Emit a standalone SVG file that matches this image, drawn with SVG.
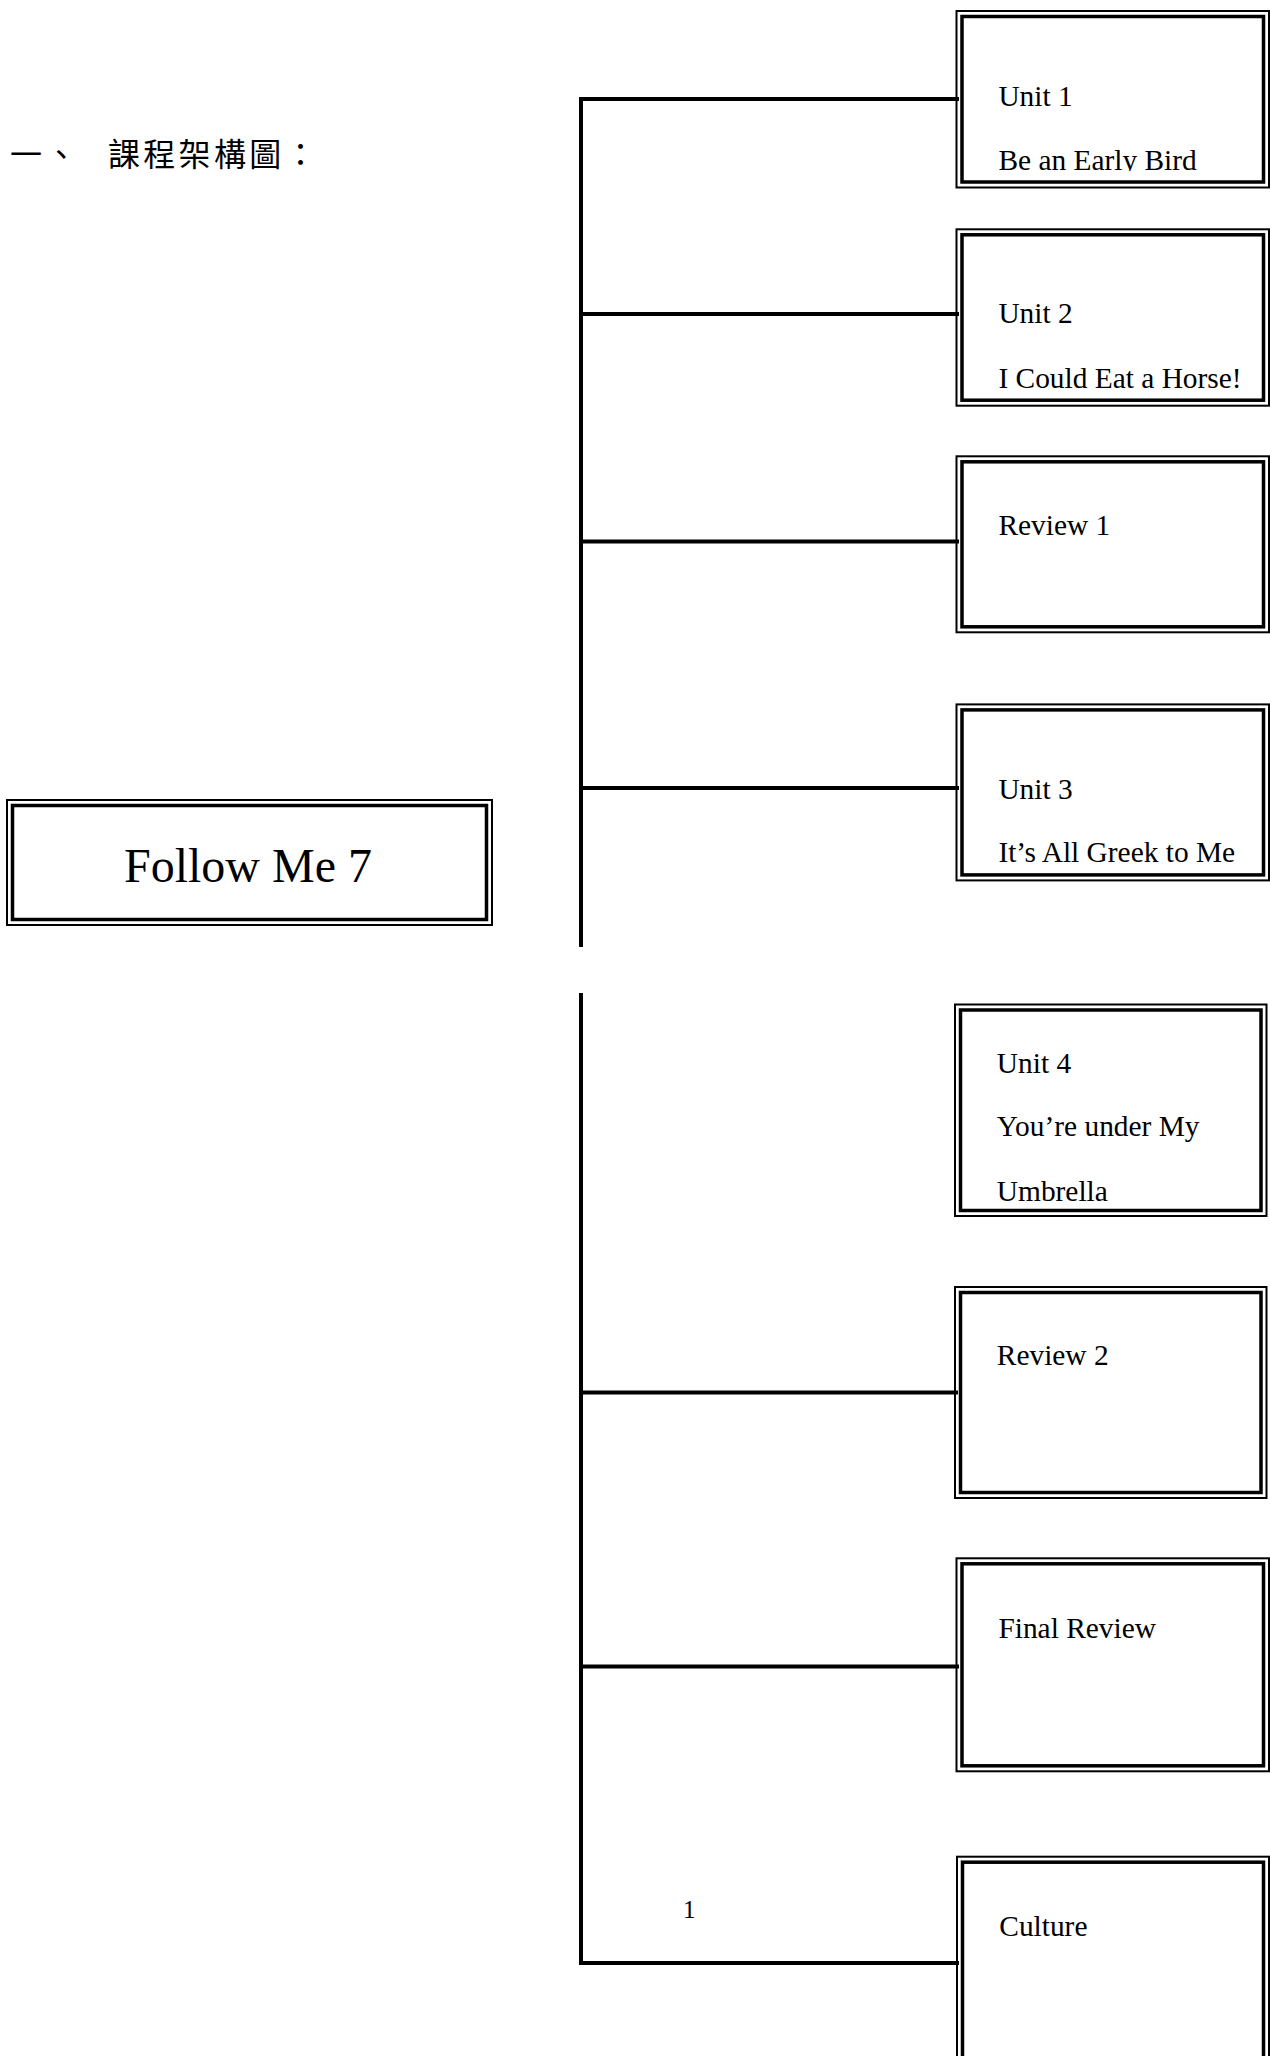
<svg xmlns="http://www.w3.org/2000/svg" width="1270" height="2056" viewBox="0 0 1270 2056">
<style>
.o{fill:none;stroke:#000;stroke-width:2}
.i{fill:none;stroke:#000;stroke-width:3.5}
.t{font-family:"Liberation Serif","Times New Roman",serif;font-size:29.4px;fill:#000}
.c{fill:none;stroke:#000;stroke-width:4;stroke-linecap:square}
</style>
<defs>
<clipPath id="clip1"><rect x="960" y="16" width="300" height="155"/></clipPath>
</defs>
<rect width="1270" height="2056" fill="#fff"/>

<g id="title">
<text x="10" y="166" font-family="'Noto Sans CJK TC','Noto Sans CJK SC',sans-serif" font-size="32" fill="#000" letter-spacing="3.3">一、<tspan x="108">課程架構圖：</tspan></text>
</g>

<g id="connectors">
<line class="c" x1="581" y1="99" x2="581" y2="945"/>
<line class="c" x1="581" y1="995" x2="581" y2="1963"/>
<line class="c" x1="581" y1="99" x2="957" y2="99"/>
<line class="c" x1="581" y1="314" x2="957" y2="314"/>
<line class="c" x1="581" y1="541.5" x2="957" y2="541.5"/>
<line class="c" x1="581" y1="788" x2="957" y2="788"/>
<line class="c" x1="581" y1="1392.5" x2="956" y2="1392.5"/>
<line class="c" x1="581" y1="1666.5" x2="957" y2="1666.5"/>
<line class="c" x1="581" y1="1963" x2="957" y2="1963"/>
</g>

<g id="root">
<rect class="o" x="7" y="800" width="485" height="125"/>
<rect class="i" x="12.5" y="805.5" width="474" height="114"/>
<text x="248" y="881.5" font-family="'Liberation Serif','Times New Roman',serif" font-size="48" text-anchor="middle" fill="#000">Follow Me 7</text>
</g>

<g id="unit1">
<rect class="o" x="956.5" y="11" width="312.5" height="176.5"/>
<rect class="i" x="962" y="16.5" width="301.5" height="165.5"/>
<text class="t" x="998.4" y="106">Unit 1</text>
<text class="t" x="998.4" y="170" clip-path="url(#clip1)">Be an Early Bird</text>
</g>

<g id="unit2">
<rect class="o" x="956.5" y="229.3" width="312.5" height="176.4"/>
<rect class="i" x="962" y="234.8" width="301.5" height="165.4"/>
<text class="t" x="998.4" y="323.3">Unit 2</text>
<text class="t" x="998.4" y="388.3">I Could Eat a Horse!</text>
</g>

<g id="review1">
<rect class="o" x="956.5" y="456.3" width="312.5" height="176"/>
<rect class="i" x="962" y="461.8" width="301.5" height="165"/>
<text class="t" x="998.4" y="535">Review 1</text>
</g>

<g id="unit3">
<rect class="o" x="956.5" y="704.4" width="312.5" height="176"/>
<rect class="i" x="962" y="709.9" width="301.5" height="165"/>
<text class="t" x="998.4" y="799">Unit 3</text>
<text class="t" x="998.4" y="861.5">It’s All Greek to Me</text>
</g>

<g id="unit4">
<rect class="o" x="955" y="1004.5" width="311.5" height="211.5"/>
<rect class="i" x="960.5" y="1010" width="300.5" height="200.5"/>
<text class="t" x="996.8" y="1072.5">Unit 4</text>
<text class="t" x="996.8" y="1136.3">You’re under My</text>
<text class="t" x="996.8" y="1201">Umbrella</text>
</g>

<g id="review2">
<rect class="o" x="955" y="1287" width="311.5" height="211"/>
<rect class="i" x="960.5" y="1292.5" width="300.5" height="200"/>
<text class="t" x="996.8" y="1365">Review 2</text>
</g>

<g id="finalreview">
<rect class="o" x="956.5" y="1558.3" width="312.5" height="213"/>
<rect class="i" x="962" y="1563.8" width="301.5" height="202"/>
<text class="t" x="998.4" y="1637.7">Final Review</text>
</g>

<g id="culture">
<rect class="o" x="957" y="1856.7" width="312" height="240"/>
<rect class="i" x="962.5" y="1862.2" width="301" height="240"/>
<text class="t" x="999.3" y="1936">Culture</text>
</g>

<text x="683" y="1917.7" font-family="'Liberation Serif','Times New Roman',serif" font-size="25" fill="#000">1</text>
</svg>
